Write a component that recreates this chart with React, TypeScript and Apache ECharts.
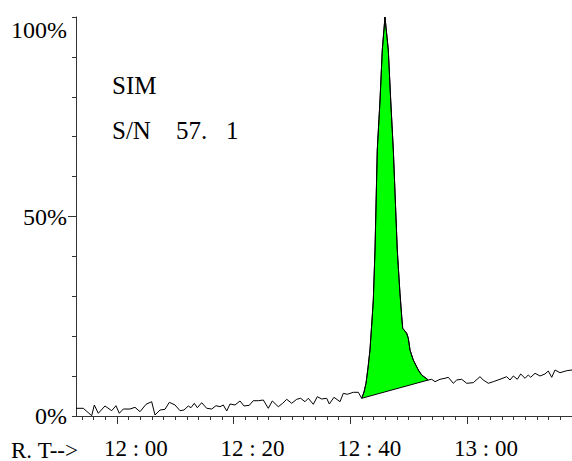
import React, { useEffect, useRef } from "react";
import * as echarts from "echarts";

// Retention time in minutes (12:00 = 720), relative intensity in %
const signalTime = [
  713.0, 714.25, 715.69, 716.14, 716.82, 717.97, 719.12, 719.85, 720.42, 721.11, 722.25, 723.11, 723.97, 725.0, 725.97,
  726.54, 727.4, 728.25, 728.99, 729.97, 730.82, 731.51, 732.24, 732.71, 733.27, 733.79, 734.54, 735.4, 736.26, 736.99,
  737.68, 738.24, 738.83, 739.39, 740.25, 741.11, 741.79, 742.7, 743.38, 744.24, 745.1, 745.95, 746.64, 747.67, 748.42,
  749.11, 749.97, 750.82, 751.51, 752.24, 752.81, 753.67, 754.35, 755.11, 755.96, 756.41, 757.21, 758.24, 758.81, 759.49,
  760.52, 761.38, 761.96,
  762.36, 762.7, 763.04, 763.38, 763.73, 763.95, 764.24, 764.63, 765.1, 765.49, 765.95, 766.52, 766.93, 767.38, 768.06,
  768.23, 768.52, 768.82, 768.99, 769.67, 769.95, 770.24, 770.8, 771.66, 772.24, 772.98, 773.37,
  773.96, 774.52, 775.38, 776.24, 776.8, 777.66, 778.24, 779.1, 779.95, 781.09, 782.23, 782.8, 783.66, 784.51, 785.66,
  786.81, 787.38, 787.94, 788.63, 789.21, 789.95, 790.51, 790.92, 791.66, 792.52, 793.37, 793.94, 794.52, 795.09, 795.94,
  797.09, 798.0,
];
const signalIntensity = [
  1.93, 1.93, 0.08, 2.76, 0.68, 2.51, 1.33, 2.58, 0.68, 1.75, 1.75, 2.18, 1.08, 2.93, 3.58,
  0.25, 1.5, 1.68, 3.43, 2.76, 1.33, 1.5, 2.51, 2.08, 3.18, 2.08, 3.33, 1.93, 1.75, 2.58,
  2.33, 2.76, 1.25, 3.01, 2.76, 3.76, 2.51, 2.68, 3.83, 3.83, 4.01, 1.93, 3.76, 2.33, 3.18,
  4.19, 3.18, 4.19, 4.44, 3.58, 4.44, 2.93, 4.84, 4.26, 4.44, 3.01, 4.69, 3.58, 5.69, 5.44,
  5.94, 5.94, 4.44,
  6.02, 8.2, 12.03, 16.54, 24.06, 29.07, 41.6, 66.67, 79.2, 91.73, 100, 91.73, 79.2, 66.67, 41.6,
  37.42, 30.75, 24.89, 21.98, 20.73, 19.47, 16.54, 14.04, 11.53, 10.28, 9.45, 9.02,
  9.2, 8.6, 9.2, 9.45, 9.7, 8.2, 9.02, 9.2, 8.2, 8.35, 9.85, 9.02, 8.2, 8.6, 9.2,
  9.85, 9.02, 10.03, 9.2, 10.53, 9.45, 10.28, 9.7, 10.7, 10.03, 10.53, 11.28, 9.7, 11.53, 10.85,
  11.35, 11.53,
];

// integrated peak limits (minutes)
const peakStartTime = 761.96;
const peakEndTime = 773.37;

// axes
const timeMin = 713;
const timeMax = 798;
const minorTimeTicks = [714, 716, 718, 720, 722, 724, 726, 728, 730, 732, 734, 736, 738, 740, 742, 744, 746, 748, 750, 752, 754, 756, 758, 760, 762, 764, 766, 768, 770, 772, 774, 776, 778, 780, 782, 784, 786, 788, 790, 792, 794, 796, 798];
const majorTimeTicks = [720, 740, 760, 780];
const minorPctTicks = [0, 10, 20, 30, 40, 50, 60, 70, 80, 90, 100];
const majorPctTicks = [0, 50, 100];

const annotationLines = ["SIM", "S/N\u00A0\u00A0\u00A0\u00A057.\u00A0\u00A0\u00A01"];
const axisTitle = "R.\u00A0T-->";

const FONT = "Times New Roman";

export default function App() {
  const ref = useRef<HTMLDivElement>(null);

  useEffect(() => {
    document.body.style.margin = "0";
    const chart = echarts.init(ref.current!, null, { renderer: "svg" });

    const trace = signalTime.map((t, i) => [t, signalIntensity[i]]);
    const peak = trace.filter((p) => p[0] >= peakStartTime && p[0] <= peakEndTime);

    const fmtTime = (v: number) => {
      const h = Math.floor(v / 60);
      const m = Math.round(v - h * 60);
      return `${h}\u00A0:\u00A0${String(m).padStart(2, "0")}`;
    };

    chart.setOption({
      animation: false,
      backgroundColor: "#fff",
      grid: { left: 76, right: 0, top: 17, bottom: 45, containLabel: false, outerBoundsMode: "none" },
      xAxis: [
        {
          type: "value",
          position: "bottom",
          min: timeMin,
          max: timeMax,
          axisLine: { show: true, lineStyle: { color: "#333", width: 1 } },
          axisTick: { show: true, length: 4, customValues: minorTimeTicks, lineStyle: { color: "#333" } },
          axisLabel: { show: false },
          splitLine: { show: false },
        },
        {
          type: "value",
          position: "bottom",
          min: timeMin,
          max: timeMax,
          axisLine: { show: false },
          axisTick: { show: true, length: 8, customValues: majorTimeTicks, lineStyle: { color: "#333" } },
          axisLabel: {
            show: true,
            customValues: majorTimeTicks,
            formatter: fmtTime,
            fontFamily: FONT,
            fontSize: 23,
            lineHeight: 18,
            color: "#000",
            margin: 23,
            padding: [0, 0, 0, 38],
          },
          splitLine: { show: false },
        },
      ],
      yAxis: [
        {
          type: "value",
          position: "left",
          min: 0,
          max: 100,
          axisLine: { show: true, lineStyle: { color: "#333", width: 1 } },
          axisTick: { show: true, length: 4, customValues: minorPctTicks, lineStyle: { color: "#333" } },
          axisLabel: { show: false },
          splitLine: { show: false },
        },
        {
          type: "value",
          position: "left",
          min: 0,
          max: 100,
          axisLine: { show: false },
          axisTick: { show: true, length: 8, customValues: [50], lineStyle: { color: "#333" } },
          axisLabel: {
            show: true,
            customValues: majorPctTicks,
            formatter: (v: number) => (v === 100 ? `{d|${v}%}` : `${v}%`),
            rich: { d: { fontFamily: FONT, fontSize: 24, color: "#000", padding: [25, 0, 0, 0] } },
            fontFamily: FONT,
            fontSize: 24,
            color: "#000",
            margin: 9,
          },
          splitLine: { show: false },
        },
      ],
      graphic: [
        {
          type: "text",
          left: 112,
          top: 73,
          style: { text: annotationLines[0], fontFamily: FONT, fontSize: 25, fill: "#000" },
        },
        {
          type: "text",
          left: 112,
          top: 118,
          style: { text: annotationLines[1], fontFamily: FONT, fontSize: 25, fill: "#000" },
        },
        {
          type: "text",
          right: 572 - 78,
          top: 439,
          style: { text: axisTitle, fontFamily: FONT, fontSize: 23, lineHeight: 18, fill: "#000" },
        },
      ],
      series: [
        {
          type: "custom",
          xAxisIndex: 0,
          yAxisIndex: 0,
          z: 2,
          data: [peak[0]],
          renderItem: (params: any, api: any) => {
            if (params.dataIndex !== 0) return null;
            const pts = peak.map((p) => api.coord(p));
            return {
              type: "polygon",
              shape: { points: pts },
              style: { fill: "#00ff00", stroke: "#000", lineWidth: 1 },
            };
          },
        },
        {
          type: "line",
          xAxisIndex: 0,
          yAxisIndex: 0,
          z: 3,
          data: trace,
          symbol: "none",
          lineStyle: { color: "#000", width: 1 },
        },
      ],
    });

    return () => chart.dispose();
  }, []);

  return <div ref={ref} style={{ width: 572, height: 461 }} />;
}
